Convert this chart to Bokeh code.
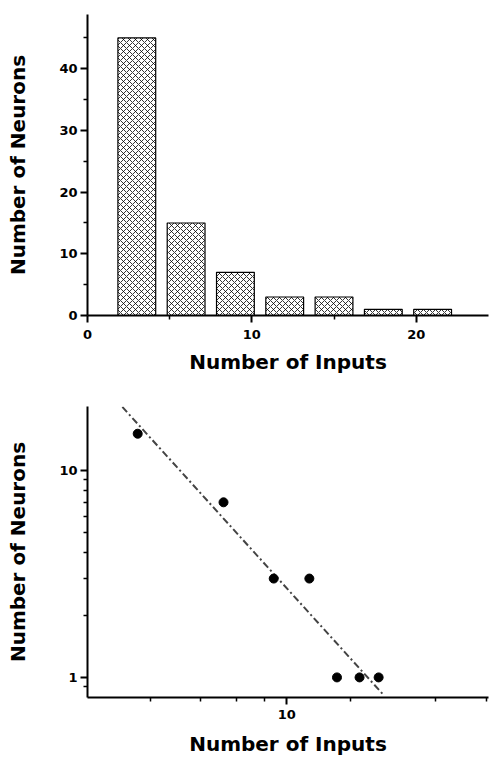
from bokeh.plotting import figure
from bokeh.layouts import column
from bokeh.models import Range1d, FixedTicker, PrintfTickFormatter
from bokeh.embed import file_html
from bokeh.resources import INLINE

# ---- data: histogram ----
bin_centers = [3, 6, 9, 12, 15, 18, 21]
neuron_counts = [45, 15, 7, 3, 3, 1, 1]
hist_x_ticks = [0, 10, 20]
hist_x_minor = [5, 15]
hist_y_ticks = [0, 10, 20, 30, 40]
hist_y_minor = [5, 15, 25, 35, 45]

# ---- data: log-log ----
log_x = [3, 6, 9, 12, 15, 18, 21]
log_y = [15, 7, 3, 3, 1, 1, 1]
fit_x = [2.65, 21.8]
fit_y = [20.2, 0.826]
log_x_ticks = [10]
log_x_minor = [3.33, 5, 6.67, 8.33, 16.7, 33.3, 50]
log_y_ticks = [1, 10]
log_y_minor = [0.9, 2, 3, 4, 5, 6, 7, 8, 9]

FONT = "DejaVu Sans"


def style_axes(p, xlab_standoff, ylab_standoff, xtick_standoff):
    for ax in (p.xaxis[0], p.yaxis[0]):
        ax.axis_line_width = 2
        ax.axis_line_color = "black"
        ax.major_tick_line_width = 2
        ax.major_tick_line_color = "black"
        ax.minor_tick_line_width = 1.5
        ax.minor_tick_line_color = "black"
        ax.major_tick_in = 0
        ax.major_tick_out = 7
        ax.minor_tick_in = 0
        ax.minor_tick_out = 4
        ax.major_label_text_font = FONT
        ax.major_label_text_font_style = "bold"
        ax.major_label_text_font_size = "13px"
        ax.major_label_text_color = "black"
        ax.axis_label_text_font = FONT
        ax.axis_label_text_font_style = "bold"
        ax.axis_label_text_font_size = "20px"
        ax.axis_label_text_color = "black"
    p.xaxis[0].axis_label_standoff = xlab_standoff
    p.yaxis[0].axis_label_standoff = ylab_standoff
    p.xaxis[0].major_label_standoff = xtick_standoff
    p.yaxis[0].major_label_standoff = 3
    p.xgrid.visible = False
    p.ygrid.visible = False
    p.outline_line_color = None
    p.background_fill_color = "white"
    p.border_fill_color = "white"


# ---- top: histogram ----
p1 = figure(width=489, height=380, output_backend="svg", toolbar_location=None,
            x_range=Range1d(0, 24.4), y_range=Range1d(0, 48.8),
            min_border_left=87, min_border_right=1, min_border_top=14, min_border_bottom=65)
p1.vbar(x=bin_centers, top=neuron_counts, width=2.3, bottom=0,
        fill_color="white", line_color="black", line_width=1.2,
        hatch_pattern="x", hatch_scale=6, hatch_color="black", hatch_weight=0.8)
p1.xaxis.ticker = FixedTicker(ticks=hist_x_ticks, minor_ticks=hist_x_minor)
p1.yaxis.ticker = FixedTicker(ticks=hist_y_ticks, minor_ticks=hist_y_minor)
p1.xaxis.axis_label = "Number of Inputs"
p1.yaxis.axis_label = "Number of Neurons"
style_axes(p1, 8, 26, 7)

# ---- bottom: log-log ----
p2 = figure(width=489, height=380, output_backend="svg", toolbar_location=None,
            x_axis_type="log", y_axis_type="log",
            x_range=Range1d(2, 51), y_range=Range1d(0.8, 20.3),
            min_border_left=87, min_border_right=1, min_border_top=26, min_border_bottom=63)
p2.line(fit_x, fit_y, line_color="#444444", line_width=2, line_dash="7 3 2 3")
p2.scatter(log_x, log_y, size=9, marker="circle", fill_color="black", line_color="black")
p2.xaxis.ticker = FixedTicker(ticks=log_x_ticks, minor_ticks=log_x_minor)
p2.yaxis.ticker = FixedTicker(ticks=log_y_ticks, minor_ticks=log_y_minor)
p2.xaxis.formatter = PrintfTickFormatter(format="%d")
p2.yaxis.formatter = PrintfTickFormatter(format="%d")
p2.xaxis.axis_label = "Number of Inputs"
p2.yaxis.axis_label = "Number of Neurons"
style_axes(p2, 10, 26, 5)

layout = column(p1, p2)
open("out.html", "w").write(file_html(layout, INLINE))
